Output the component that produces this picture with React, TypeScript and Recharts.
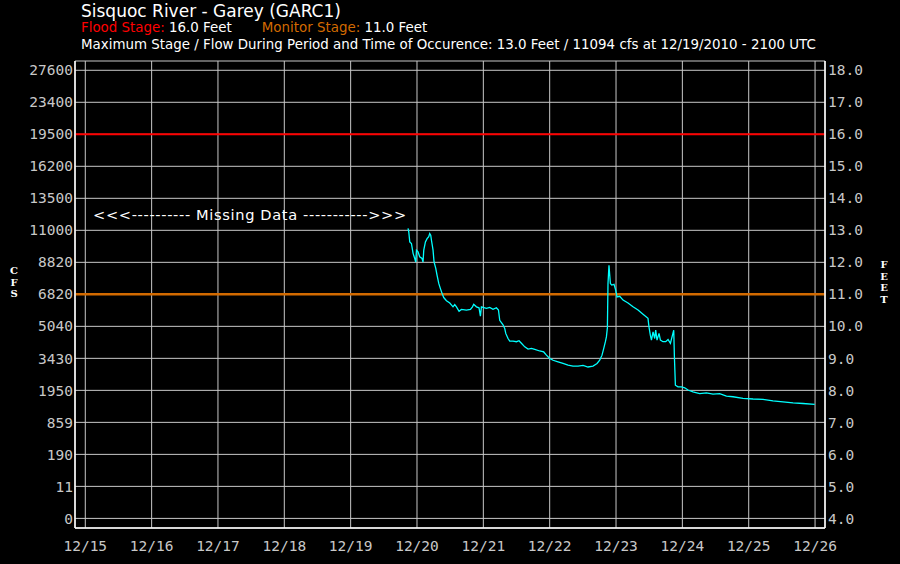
import { LineChart, Line, XAxis, YAxis, CartesianGrid, ReferenceLine } from 'recharts';

// days since 12/15 00 UTC
const stageDays = [
  4.865, 4.876, 4.891, 4.916, 4.941, 4.966, 4.981, 4.992, 5.016, 5.041, 5.076, 5.091, 5.102, 5.127, 5.152,
  5.177, 5.192, 5.207, 5.218, 5.242, 5.257, 5.283, 5.302, 5.328, 5.353, 5.378, 5.403, 5.444, 5.494, 5.543,
  5.569, 5.595, 5.634, 5.67, 5.745, 5.806, 5.836, 5.855, 5.896, 5.935, 5.956, 5.971, 5.995, 6.047, 6.096,
  6.146, 6.197, 6.228, 6.247, 6.297, 6.323, 6.338, 6.372, 6.398, 6.448, 6.499, 6.538, 6.574, 6.624, 6.674,
  6.725, 6.775, 6.85, 6.91, 6.951, 7.001, 7.051, 7.126, 7.201, 7.277, 7.352, 7.427, 7.503, 7.578, 7.653,
  7.714, 7.754, 7.789, 7.815, 7.84, 7.855, 7.87, 7.879, 7.894, 7.905, 7.915, 7.935, 7.97, 7.995, 8.015,
  8.056, 8.106, 8.181, 8.256, 8.332, 8.407, 8.482, 8.497, 8.518, 8.534, 8.558, 8.583, 8.598, 8.618, 8.648,
  8.669, 8.708, 8.749, 8.784, 8.82, 8.85, 8.87, 8.88, 8.895, 8.934, 8.986, 9.035, 9.085, 9.16, 9.261,
  9.362, 9.462, 9.563, 9.664, 9.763, 9.914, 10.065, 10.215, 10.366, 10.517, 10.668, 10.818, 10.995,
];

const stageFeet = [
  13.06, 12.95, 12.64, 12.59, 12.28, 12.12, 12.01, 12.38, 12.33, 12.17, 12.12, 12.01, 12.38, 12.64, 12.74,
  12.8, 12.9, 12.85, 12.69, 12.38, 12.01, 11.81, 11.6, 11.34, 11.18, 11.03, 10.9, 10.8, 10.73, 10.61,
  10.68, 10.61, 10.47, 10.53, 10.51, 10.53, 10.61, 10.69, 10.61, 10.58, 10.32, 10.61, 10.59, 10.56, 10.59,
  10.53, 10.58, 10.51, 10.19, 10.05, 9.93, 9.78, 9.62, 9.54, 9.54, 9.52, 9.55, 9.47, 9.36, 9.29,
  9.31, 9.28, 9.23, 9.2, 9.1, 9.0, 8.94, 8.89, 8.84, 8.79, 8.76, 8.76, 8.78, 8.73, 8.76,
  8.84, 8.94, 9.1, 9.31, 9.52, 9.67, 9.96, 11.34, 11.91, 11.6, 11.34, 11.29, 11.31, 11.13, 10.92,
  10.94, 10.82, 10.73, 10.61, 10.51, 10.38, 10.25, 9.98, 9.72, 9.57, 9.83, 9.62, 9.88, 9.57, 9.78,
  9.57, 9.52, 9.52, 9.59, 9.47, 9.72, 9.88, 9.05, 8.16, 8.11, 8.11, 8.08, 8.01, 7.95, 7.9,
  7.92, 7.88, 7.9, 7.82, 7.8, 7.75, 7.73, 7.72, 7.67, 7.64, 7.61, 7.59, 7.56,
];

const dayLabels = ['12/15', '12/16', '12/17', '12/18', '12/19', '12/20', '12/21', '12/22', '12/23', '12/24', '12/25', '12/26'];
const feetTicks = [4, 5, 6, 7, 8, 9, 10, 11, 12, 13, 14, 15, 16, 17, 18];
const cfsLabels = ['0', '11', '190', '859', '1950', '3430', '5040', '6820', '8820', '11000', '13500', '16200', '19500', '23400', '27600'];

const floodStage = 16.0;
const monitorStage = 11.0;

const data = stageDays.map((d, i) => ({ d, ft: stageFeet[i] }));

const tickFont = { fill: '#c8c8c8', fontSize: 14.5, fontFamily: 'DejaVu Sans Mono' };
const textFont = 'DejaVu Sans';

export default function App() {
  return (
    <div style={{ position: 'absolute', left: 0, top: 0, width: 900, height: 564, background: '#000', overflow: 'hidden' }}>
      <div style={{ position: 'absolute', left: 81, top: 1, color: '#fff', fontFamily: textFont, fontSize: 17, whiteSpace: 'nowrap' }}>
        Sisquoc River - Garey (GARC1)
      </div>
      <div style={{ position: 'absolute', left: 81, top: 20, color: '#fff', fontFamily: textFont, fontSize: 13.4, whiteSpace: 'nowrap' }}>
        <span style={{ color: '#ff0000' }}>Flood Stage:</span> 16.0 Feet
        <span style={{ color: '#d26a00', marginLeft: 30 }}>Monitor Stage:</span> 11.0 Feet
      </div>
      <div style={{ position: 'absolute', left: 81, top: 37, color: '#fff', fontFamily: textFont, fontSize: 13.4, whiteSpace: 'nowrap' }}>
        Maximum Stage / Flow During Period and Time of Occurence: 13.0 Feet / 11094 cfs at 12/19/2010 - 2100 UTC
      </div>

      <LineChart width={900} height={564} data={data} margin={{ top: 61, right: 5, bottom: 6, left: 5 }}>
        <CartesianGrid stroke="#c8c8c8" strokeWidth={1} yAxisId="left" />
        <XAxis
          dataKey="d"
          type="number"
          domain={[-0.155, 11.15]}
          ticks={dayLabels.map((_, i) => i)}
          tickFormatter={(v: number) => dayLabels[v]}
          tick={tickFont}
          tickLine={false}
          tickSize={0}
          tickMargin={13}
          axisLine={{ stroke: '#fff', strokeWidth: 1.5 }}
          height={30}
          allowDataOverflow
        />
        <XAxis xAxisId="top" orientation="top" dataKey="d" type="number" domain={[-0.155, 11.15]} tick={false} tickLine={false} axisLine={{ stroke: '#fff', strokeWidth: 1.5 }} height={0} />
        <YAxis
          yAxisId="left"
          type="number"
          domain={[3.7, 18.29]}
          ticks={feetTicks}
          tickFormatter={(v: number) => cfsLabels[feetTicks.indexOf(v)]}
          tick={tickFont}
          tickLine={false}
          tickSize={0}
          tickMargin={2}
          axisLine={{ stroke: '#fff', strokeWidth: 1.5 }}
          width={70}
          allowDataOverflow
        />
        <YAxis
          yAxisId="right"
          orientation="right"
          type="number"
          domain={[3.7, 18.29]}
          ticks={feetTicks}
          tickFormatter={(v: number) => v.toFixed(1)}
          tick={tickFont}
          tickLine={false}
          tickSize={0}
          tickMargin={3}
          axisLine={{ stroke: '#fff', strokeWidth: 1.5 }}
          width={70}
          allowDataOverflow
        />
        <ReferenceLine yAxisId="right" y={floodStage} stroke="#ff0000" strokeWidth={2} />
        <ReferenceLine yAxisId="right" y={monitorStage} stroke="#d26a00" strokeWidth={2.5} />
        <Line yAxisId="right" dataKey="ft" stroke="#00ffff" strokeWidth={1.3} dot={false} isAnimationActive={false} />
      </LineChart>

      <div style={{ position: 'absolute', left: 93, top: 206, color: '#fff', fontFamily: textFont, fontSize: 14.6, letterSpacing: 0.65, whiteSpace: 'nowrap' }}>
        {'<<<---------- Missing Data ----------->>>'}
      </div>
      <div style={{ position: 'absolute', left: 8, top: 265, width: 12, color: '#fff', fontFamily: 'DejaVu Serif', fontWeight: 'bold', fontSize: 10, lineHeight: '11.5px', textAlign: 'center' }}>
        <div>C</div><div>F</div><div>S</div>
      </div>
      <div style={{ position: 'absolute', left: 878, top: 259, width: 12, color: '#fff', fontFamily: 'DejaVu Serif', fontWeight: 'bold', fontSize: 10, lineHeight: '11.5px', textAlign: 'center' }}>
        <div>F</div><div>E</div><div>E</div><div>T</div>
      </div>
    </div>
  );
}
